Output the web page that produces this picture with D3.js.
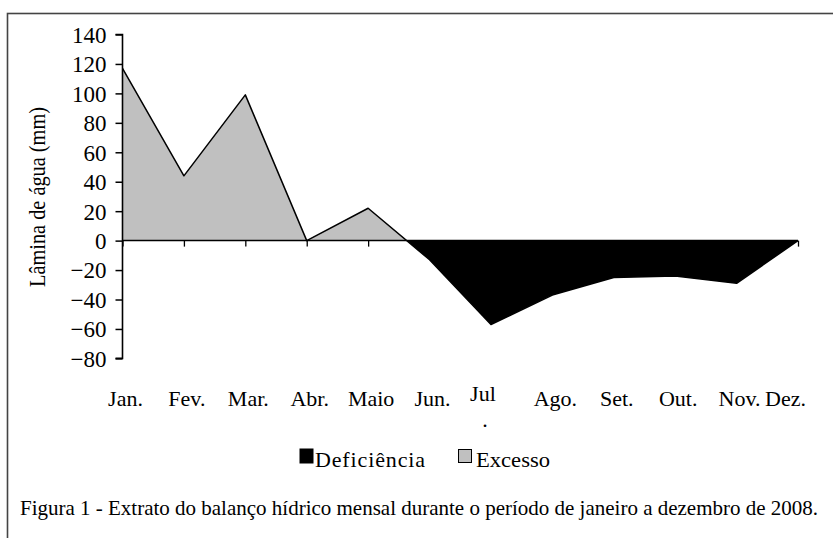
<!DOCTYPE html>
<html>
<head>
<meta charset="utf-8">
<script src="https://cdn.jsdelivr.net/npm/d3@7/dist/d3.min.js"></script>
<style>
  html, body { margin: 0; padding: 0; background: #fff; }
  svg { display: block; }
  text { font-family: "Liberation Serif", "Times New Roman", serif; fill: #000; }
</style>
</head>
<body>
<svg id="chart" width="833" height="538"></svg>
<script>
// ---- data ----
const meses = ["Jan.", "Fev.", "Mar.", "Abr.", "Maio", "Jun.", "Jul", "Ago.", "Set.", "Out.", "Nov.", "Dez."];
const excesso = [117, 44, 99, 0, 22, 0, 0, 0, 0, 0, 0, 0];
const deficiencia = [0, 0, 0, 0, 0, -13, -57, -37, -25, -24, -29, 0];
const yTicks = [140, 120, 100, 80, 60, 40, 20, 0, -20, -40, -60, -80];
const seriesNames = ["Deficiência", "Excesso"];
const seriesColors = ["#000000", "#c0c0c0"];
const yTitle = "Lâmina de água (mm)";
const caption = "Figura 1 - Extrato do balanço hídrico mensal durante o período de janeiro a dezembro de 2008.";

// ---- layout ----
const svg = d3.select("#chart");
const x = d3.scalePoint().domain(meses).range([122.5, 798]);
const y = d3.scaleLinear().domain([-80, 140]).range([358.4, 34.5]);
const FONT = "Liberation Serif";

// outer frame
svg.append("rect").attr("x", 7.5).attr("y", 13.5).attr("width", 840).attr("height", 540)
  .attr("fill", "none").attr("stroke", "#444").attr("stroke-width", 1.6);

const net = meses.map((m, i) => ({ m, v: excesso[i] + deficiencia[i] }));
const y0 = y(0);

const defs = svg.append("defs");
defs.append("clipPath").attr("id", "clipPos").append("rect")
  .attr("x", 0).attr("y", 0).attr("width", 833).attr("height", y0);
defs.append("clipPath").attr("id", "clipNeg").append("rect")
  .attr("x", 0).attr("y", y0).attr("width", 833).attr("height", 538 - y0);

const area = d3.area().x(d => x(d.m)).y0(y0).y1(d => y(d.v));
const line = d3.line().x(d => x(d.m)).y(d => y(d.v));

svg.append("path").datum(net).attr("d", area).attr("fill", seriesColors[1]).attr("clip-path", "url(#clipPos)");
svg.append("path").datum(net).attr("d", area).attr("fill", seriesColors[0]).attr("clip-path", "url(#clipNeg)");
svg.append("path").datum(net).attr("d", line).attr("fill", "none").attr("stroke", "#000").attr("stroke-width", 1.5).attr("stroke-linejoin", "round");

// y axis
const yAxis = d3.axisLeft(y).tickValues(yTicks).tickSize(7).tickPadding(9).tickFormat(d3.format("d"));
const gy = svg.append("g").attr("transform", "translate(122.5,0)").call(yAxis);
gy.attr("font-family", FONT).attr("font-size", 23);
gy.select(".domain").attr("stroke", "#000").attr("stroke-width", 1.6).attr("d", `M-7,${y(140)}H0V${y(-80)}H-7`);
gy.selectAll(".tick line").attr("stroke", "#000").attr("stroke-width", 1.5);
gy.selectAll(".tick text").attr("fill", "#000").attr("dy", "0.34em");

// x axis at zero
const xAxis = d3.axisBottom(x).tickSize(6).tickFormat("");
const gx = svg.append("g").attr("transform", `translate(0,${y0})`).call(xAxis);
gx.select(".domain").attr("stroke", "#000").attr("stroke-width", 1.5).attr("d", `M${x(meses[0])},0H${x(meses[meses.length-1])}`);
gx.selectAll(".tick line").attr("stroke", "#000").attr("stroke-width", 1.3);

// month labels
const labels = svg.append("g").attr("font-size", 22);
meses.forEach((m, i) => {
  const t = labels.append("text").attr("text-anchor", "middle");
  if (m === "Jul") {
    t.attr("x", x(m) - 8).attr("y", 401).text(m);
    labels.append("text").attr("text-anchor", "middle")
      .attr("x", x(m) - 6).attr("y", 427).text(".");
  } else {
    t.attr("x", x(m) + 3).attr("y", 406).text(m);
    const bb = t.node().getBBox();
    if (bb.x + bb.width > 806) t.attr("x", x(m) + 3 - (bb.x + bb.width - 806));
  }
});

// y title
svg.append("text").attr("transform", "translate(45,197) rotate(-90)")
  .attr("text-anchor", "middle").attr("font-size", 23)
  .attr("textLength", 180).attr("lengthAdjust", "spacingAndGlyphs").text(yTitle);

// legend
const leg = svg.append("g").attr("font-size", 22);
leg.append("rect").attr("x", 300).attr("y", 449).attr("width", 13).attr("height", 14)
  .attr("fill", seriesColors[0]).attr("stroke", "#000").attr("stroke-width", 1);
leg.append("text").attr("x", 315).attr("y", 467)
  .attr("textLength", 110).attr("lengthAdjust", "spacing").text(seriesNames[0]);
leg.append("rect").attr("x", 458.5).attr("y", 449.5).attr("width", 13).attr("height", 13)
  .attr("fill", seriesColors[1]).attr("stroke", "#000").attr("stroke-width", 1);
leg.append("text").attr("x", 476).attr("y", 467).attr("textLength", 74)
  .attr("lengthAdjust", "spacingAndGlyphs").text(seriesNames[1]);

// caption
svg.append("text").attr("x", 20).attr("y", 515).attr("font-size", 21)
  .attr("textLength", 798).attr("lengthAdjust", "spacingAndGlyphs").text(caption);
</script>
</body>
</html>
